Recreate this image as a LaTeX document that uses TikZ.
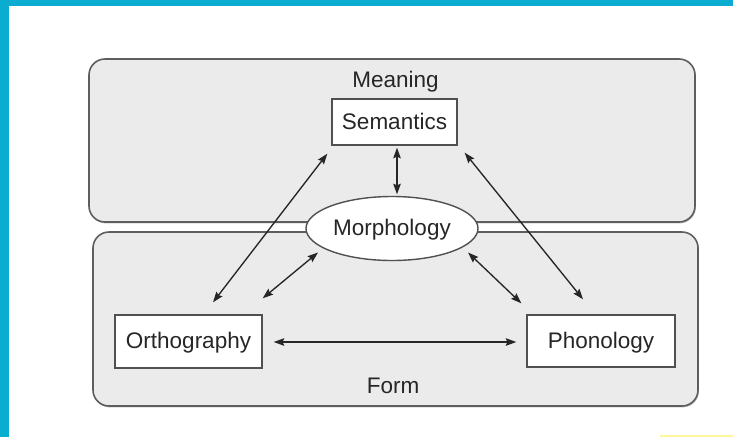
\documentclass[tikz,border=0pt]{standalone}
\usepackage{fontspec}
\setmainfont{Liberation Sans}
\usetikzlibrary{arrows.meta,calc,shapes.geometric,shadows}

\definecolor{frame}{HTML}{0AADCF}
\definecolor{panelfill}{HTML}{EBEBEB}
\definecolor{paneledge}{HTML}{5E5E5E}
\definecolor{boxedge}{HTML}{505050}
\definecolor{ink}{HTML}{262626}
\definecolor{note}{HTML}{FFF59D}

\tikzset{
  panel/.style={draw=paneledge, line width=1.6pt, fill=panelfill,
    rounded corners=16pt, inner sep=0pt,
    drop shadow={shadow xshift=0.8pt, shadow yshift=-1.4pt, fill=black!45, opacity=0.6}},
  label/.style={font=\fontsize{22.5}{27}\selectfont, text=ink, inner sep=0pt, anchor=base},
  stagebox/.style={draw=boxedge, line width=1.4pt, fill=white, inner sep=0pt,
    font=\fontsize{22.5}{27}\selectfont, text=ink, text height=17.5pt, text depth=3.5pt},
  hub/.style={ellipse, draw=boxedge, line width=1.4pt, fill=white, inner sep=0pt,
    font=\fontsize{22.5}{27}\selectfont, text=ink, text height=17.5pt, text depth=3.5pt},
  link/.style={draw=ink, line width=1.35pt,
    {Stealth[length=10.5pt,width=7.5pt,inset=1.5pt]}-{Stealth[length=10.5pt,width=7.5pt,inset=1.5pt]}}
}

\begin{document}
\begin{tikzpicture}[x=1pt, y=-1pt]
  % page and frame
  \useasboundingbox (0,0) rectangle (733,437);
  \fill[white] (0,0) rectangle (733,437);
  \fill[frame] (0,0) rectangle (733,6);
  \fill[frame] (0,0) rectangle (9,437);
  \fill[note] (660,435) rectangle (733,437);

  % the two domains
  \node[panel, minimum width=606pt, minimum height=163pt] (meaningpanel) at (392,140.5) {};
  \node[panel, minimum width=605pt, minimum height=174pt] (formpanel) at (395.5,319) {};
  \node[label] (meaning) at (395.5,87) {Meaning};
  \node[label] (form) at (393,393) {Form};

  % components
  \node[stagebox, minimum width=125pt, minimum height=46pt] (sem) at (394.5,122) {Semantics};
  \node[hub, minimum width=172pt, minimum height=64pt] (morph) at (392,228.5) {Morphology};
  \node[stagebox, minimum width=147pt, minimum height=53pt] (orth) at (188.5,341.5) {Orthography};
  \node[stagebox, minimum width=148pt, minimum height=52pt] (phon) at (601,341) {Phonology};

  % links between components
  \draw[link] ($(sem.south)+(2.5,2)$) -- ($(morph.north)+(5,-1.5)$);
  \draw[link] ($(sem.south west)+(-4,8)$) -- ($(orth.north)+(24.5,-12)$);
  \draw[link] ($(sem.south east)+(7,7)$) -- ($(phon.north)+(-18,-15)$);
  \draw[link] ($(morph.center)+(-74,24)$) -- ($(orth.north east)+(0,-16)$);
  \draw[link] ($(morph.center)+(76,24)$) -- ($(phon.north west)+(-5,-11)$);
  \draw[link] ($(orth.east)+(11,0.5)$) -- ($(phon.west)+(-10,1)$);
\end{tikzpicture}
\end{document}
